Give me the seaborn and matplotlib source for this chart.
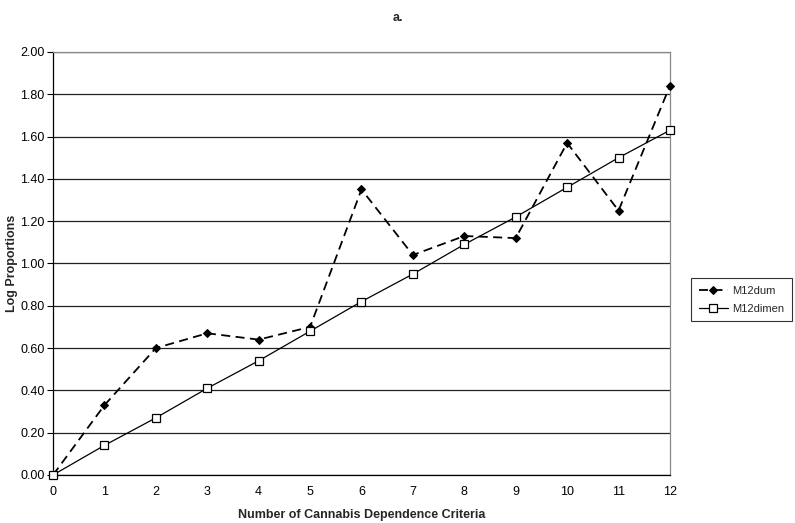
import matplotlib
matplotlib.use("Agg")
import matplotlib.pyplot as plt
import seaborn as sns
import pandas as pd

# Veriler
criteria = list(range(13))
m12dum = [0.00, 0.33, 0.60, 0.67, 0.64, 0.70, 1.35, 1.04, 1.13, 1.12, 1.57, 1.25, 1.84]
m12dimen = [0.00, 0.14, 0.27, 0.41, 0.54, 0.68, 0.82, 0.95, 1.09, 1.22, 1.36, 1.50, 1.63]
y_ticks = [0.0, 0.2, 0.4, 0.6, 0.8, 1.0, 1.2, 1.4, 1.6, 1.8, 2.0]

df = pd.DataFrame({"x": criteria, "M12dum": m12dum, "M12dimen": m12dimen})

sns.set_style("white")
plt.rcParams["font.family"] = ["Liberation Sans", "DejaVu Sans"]

fig = plt.figure(figsize=(7.95, 5.23), dpi=100)
ax = fig.add_axes([0.0667, 0.0918, 0.776, 0.8088])

sns.lineplot(data=df, x="x", y="M12dum", ax=ax, color="black", linestyle=(0, (5, 3)),
             linewidth=1.3, marker="D", markersize=4, markerfacecolor="black",
             markeredgecolor="black", label="M12dum", zorder=3, clip_on=False)
sns.lineplot(data=df, x="x", y="M12dimen", ax=ax, color="black", linewidth=0.9,
             marker="s", markersize=5.5, markerfacecolor="white",
             markeredgecolor="black", markeredgewidth=0.9, label="M12dimen", zorder=3,
             clip_on=False)

ax.set_xlim(0, 12)
ax.set_ylim(0, 2.0)
ax.set_xticks(criteria)
ax.set_yticks(y_ticks)
ax.set_yticklabels([f"{v:.2f}" for v in y_ticks])
ax.tick_params(axis="both", labelsize=9, colors="black")
ax.tick_params(axis="y", length=4, width=0.8, direction="out", left=True, pad=2)
ax.tick_params(axis="x", length=0, pad=8)

ax.yaxis.grid(True, color="#222222", linewidth=0.9)
ax.xaxis.grid(False)
ax.set_axisbelow(True)
for s in ["left", "bottom"]:
    ax.spines[s].set_color("black")
    ax.spines[s].set_linewidth(0.9)
for s in ["top", "right"]:
    ax.spines[s].set_color("#888888")
    ax.spines[s].set_linewidth(0.9)

ax.set_xlabel("Number of Cannabis Dependence Criteria", fontsize=9, fontweight="bold", labelpad=8)
ax.set_ylabel("Log Proportions", fontsize=9, fontweight="bold")
ax.yaxis.set_label_coords(-0.057, 0.5)
fig.text(0.5, 0.978, "a.", ha="center", va="top", fontsize=9, fontweight="bold")

# Lejant
leg = ax.legend(loc="center left", bbox_to_anchor=(0.869, 0.427), bbox_transform=fig.transFigure,
                frameon=True, fancybox=False, fontsize=8, handlelength=2.6,
                handletextpad=0.4, borderpad=0.7, borderaxespad=0, labelspacing=0.7)
leg.get_frame().set_edgecolor("black")
leg.get_frame().set_linewidth(0.8)

fig.savefig("out.png", dpi=100)
